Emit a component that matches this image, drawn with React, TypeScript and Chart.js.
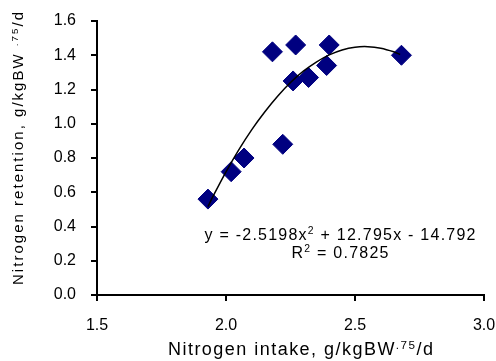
import React, { useEffect, useRef } from "react";
import { Chart, registerables } from "chart.js";

Chart.register(...registerables);

// ---- data ----
const intake = [1.93, 2.02, 2.07, 2.18, 2.22, 2.26, 2.27, 2.32, 2.39, 2.40, 2.68];
const retention = [0.56, 0.72, 0.80, 1.42, 0.88, 1.25, 1.46, 1.27, 1.34, 1.46, 1.40];

// polynomial trendline samples (as drawn in the reference)
const trendX = [1.93, 1.95, 2.0, 2.05, 2.1, 2.15, 2.2, 2.25, 2.3, 2.35, 2.4, 2.45, 2.5, 2.55, 2.6, 2.65, 2.675];
const trendY = [0.516, 0.577, 0.719, 0.849, 0.966, 1.069, 1.161, 1.241, 1.307, 1.36, 1.402, 1.431, 1.447, 1.45, 1.441, 1.42, 1.404];

const xMin = 1.5;
const xMax = 3.0;
const xStep = 0.5;
const yMin = 0;
const yMax = 1.6;
const yStep = 0.2;

type Run = { t: string; sup?: boolean };
const xTitle: Run[] = [{ t: "Nitrogen intake, g/kgBW" }, { t: ".75", sup: true }, { t: "/d" }];
const yTitle: Run[] = [{ t: "Nitrogen retention, g/kgBW " }, { t: ".75", sup: true }, { t: "/d" }];
const eqLine1: Run[] = [{ t: "y = -2.5198x" }, { t: "2", sup: true }, { t: " + 12.795x - 14.792" }];
const eqLine2: Run[] = [{ t: "R" }, { t: "2", sup: true }, { t: " = 0.7825" }];

const FONT = '"Liberation Sans", Arial, sans-serif';

function drawRich(
  ctx: CanvasRenderingContext2D,
  runs: Run[],
  cx: number,
  baseline: number,
  size: number,
  targetWidth: number
) {
  const chars: { ch: string; s: number; w: number; dy: number }[] = [];
  for (const r of runs) {
    const s = r.sup ? size * 0.65 : size;
    ctx.font = `${s}px ${FONT}`;
    for (const ch of r.t) {
      chars.push({ ch, s, w: ctx.measureText(ch).width, dy: r.sup ? -size * 0.36 : 0 });
    }
  }
  const natural = chars.reduce((a, c) => a + c.w, 0);
  const spacing = chars.length > 1 ? (targetWidth - natural) / (chars.length - 1) : 0;
  let x = cx - targetWidth / 2;
  ctx.fillStyle = "#000";
  ctx.textAlign = "left";
  ctx.textBaseline = "alphabetic";
  for (const c of chars) {
    ctx.font = `${c.s}px ${FONT}`;
    ctx.fillText(c.ch, x, baseline + c.dy);
    x += c.w + spacing;
  }
}

const textPlugin = {
  id: "richText",
  afterDraw(chart: any) {
    const ctx: CanvasRenderingContext2D = chart.ctx;
    ctx.save();
    // x axis title
    drawRich(ctx, xTitle, 300.5, 355, 18, 265);
    // y axis title (rotated)
    ctx.save();
    ctx.translate(23, 148.5);
    ctx.rotate(-Math.PI / 2);
    drawRich(ctx, yTitle, 0, 0, 15, 273);
    ctx.restore();
    // trendline equation
    drawRich(ctx, eqLine1, 340, 240, 16, 271);
    drawRich(ctx, eqLine2, 340, 257.5, 16, 97);
    ctx.restore();
  },
};

export default function App() {
  const ref = useRef<HTMLCanvasElement | null>(null);

  useEffect(() => {
    if (!ref.current) return;
    const chart = new Chart(ref.current, {
      type: "scatter",
      data: {
        datasets: [
          {
            label: "Trend",
            data: trendX.map((x, i) => ({ x, y: trendY[i] })),
            showLine: true,
            borderColor: "#000",
            borderWidth: 1.5,
            pointRadius: 0,
            pointHoverRadius: 0,
            tension: 0.3,
            fill: false,
          } as any,
          {
            label: "N retention",
            data: intake.map((x, i) => ({ x, y: retention[i] })),
            pointStyle: "rectRot",
            pointRadius: 10,
            pointHoverRadius: 10,
            backgroundColor: "#000080",
            borderColor: "#000080",
            borderWidth: 1,
          },
        ],
      },
      options: {
        responsive: false,
        animation: false,
        layout: { padding: { top: 21, right: 12, left: 0, bottom: 0 } },
        plugins: {
          legend: { display: false },
          tooltip: { enabled: false },
        },
        scales: {
          x: {
            type: "linear",
            min: xMin,
            max: xMax,
            afterFit: (s: any) => {
              s.height = 66;
              s.paddingLeft = 0;
              s.paddingRight = 0;
            },
            ticks: {
              stepSize: xStep,
              callback: (v: any) => Number(v).toFixed(1),
              color: "#000",
              font: { family: FONT, size: 16 },
              padding: 15,
              maxRotation: 0,
            },
            grid: {
              display: true,
              drawOnChartArea: false,
              drawTicks: true,
              tickLength: 6,
              color: "#000",
              lineWidth: 2,
            },
            border: { display: true, color: "#000", width: 2 },
          },
          y: {
            type: "linear",
            min: yMin,
            max: yMax,
            afterFit: (s: any) => {
              s.width = 97;
              s.paddingTop = 0;
              s.paddingBottom = 0;
            },
            ticks: {
              stepSize: yStep,
              callback: (v: any) => Number(v).toFixed(1),
              color: "#000",
              font: { family: FONT, size: 16 },
              padding: 15,
            },
            grid: {
              display: true,
              drawOnChartArea: false,
              drawTicks: true,
              tickLength: 6,
              color: "#000",
              lineWidth: 2,
            },
            border: { display: true, color: "#000", width: 2 },
          },
        },
      },
      plugins: [textPlugin],
    });
    return () => chart.destroy();
  }, []);

  return (
    <canvas
      ref={ref}
      width={496}
      height={361}
      style={{ position: "absolute", left: 0, top: 0, display: "block", width: 496, height: 361 }}
    />
  );
}
